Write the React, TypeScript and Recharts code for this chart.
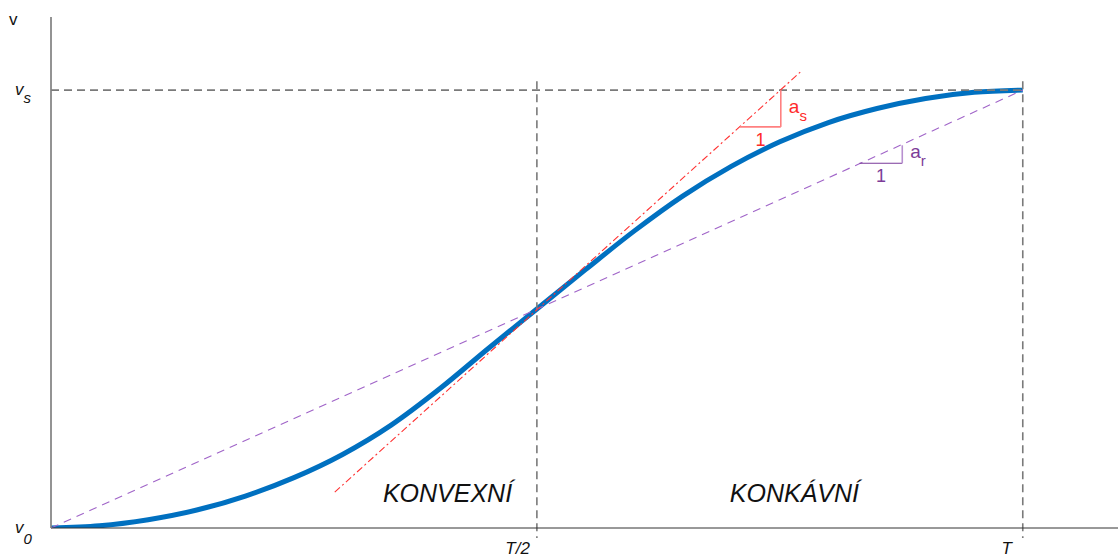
import React from "react";
import {
  LineChart,
  Line,
  XAxis,
  YAxis,
  ReferenceLine,
  ReferenceDot,
} from "recharts";

const FONT = '"Liberation Sans", Arial, sans-serif';

// normalised time (0 = start, 1 = T) and velocity (0 = v0, 1 = vs)
const timeSteps = [
  0, 0.05, 0.1, 0.15, 0.2, 0.25, 0.3, 0.35, 0.4, 0.45, 0.5, 0.55, 0.6, 0.65,
  0.7, 0.75, 0.8, 0.85, 0.9, 0.95, 1,
];
const velocity = [
  0, 0.005, 0.019, 0.041, 0.073, 0.115, 0.168, 0.235, 0.318, 0.41, 0.5, 0.59,
  0.678, 0.758, 0.826, 0.882, 0.926, 0.958, 0.981, 0.995, 1,
];

const xTicks = [0.5, 1];
const xTickLabels = ["T/2", "T"];
const yTicks = [0, 1, 1.167];

const X_MAX = 1.098;
const Y_MAX = 1.167;

// secant v0 -> vs and tangent in the inflection point
const secant = [
  { x: 0, y: 0 },
  { x: 1, y: 1 },
];
const tangent = [
  { x: 0.292, y: 0.082 },
  { x: 0.771, y: 1.041 },
];
// slope triangles: left corner, right corner, top corner
const asTriangle = [
  { x: 0.709, y: 0.916 },
  { x: 0.751, y: 0.916 },
  { x: 0.751, y: 1.0 },
];
const arTriangle = [
  { x: 0.832, y: 0.833 },
  { x: 0.876, y: 0.833 },
  { x: 0.876, y: 0.874 },
];

const regionLabels = [
  { x: 0.408, y: 0.059, text: "KONVEXNÍ" },
  { x: 0.765, y: 0.059, text: "KONKÁVNÍ" },
];

const curveData = timeSteps.map((t, i) => ({ t, v: velocity[i] }));

function TimeTick({ x, y, payload }: any) {
  const idx = xTicks.indexOf(payload.value);
  const shift = idx === 0 ? -7 : -11;
  return (
    <text
      x={x + shift}
      y={y + 26}
      textAnchor="end"
      fontFamily={FONT}
      fontSize={17}
      fontStyle="italic"
      fill="#111"
    >
      {xTickLabels[idx]}
    </text>
  );
}

function VelocityTick({ x, y, payload }: any) {
  const common = { fontFamily: FONT, fontSize: 17, fill: "#111" };
  if (payload.value === 0) {
    return (
      <text x={x - 36} y={y + 5} {...common} fontStyle="italic">
        v<tspan dy={11} fontSize={15}>0</tspan>
      </text>
    );
  }
  if (payload.value === 1) {
    return (
      <text x={x - 36} y={y + 5} {...common} fontStyle="italic">
        v<tspan dy={8} fontSize={15}>s</tspan>
      </text>
    );
  }
  return (
    <text x={x - 42} y={y + 8} {...common}>
      v
    </text>
  );
}

function slopeLabels(tri: { x: number; y: number }[], color: string, sub: string) {
  return [
    <ReferenceDot
      key={`one-${sub}`}
      x={(tri[0].x + tri[1].x) / 2}
      y={tri[0].y}
      r={1}
      ifOverflow="visible"
      shape={(p: any) => (
        <text
          x={p.cx}
          y={p.cy + 19}
          textAnchor="middle"
          fontFamily={FONT}
          fontSize={18}
          fill={color}
        >
          1
        </text>
      )}
    />,
    <ReferenceDot
      key={`a-${sub}`}
      x={tri[2].x}
      y={(tri[1].y + tri[2].y) / 2}
      r={1}
      ifOverflow="visible"
      shape={(p: any) => (
        <text x={p.cx + 8} y={p.cy + 4} fontFamily={FONT} fontSize={19} fill={color}>
          a<tspan dy={8} fontSize={15}>{sub}</tspan>
        </text>
      )}
    />,
  ];
}

export default function App() {
  return (
    <div style={{ position: "absolute", left: 0, top: 0 }}>
      <LineChart
        width={1118}
        height={558}
        data={curveData}
        margin={{ top: 17, right: 0, left: 0, bottom: 0 }}
      >
        <XAxis
          dataKey="t"
          type="number"
          domain={[0, X_MAX]}
          ticks={xTicks}
          tick={<TimeTick />}
          tickLine={false}
          tickSize={0}
          tickMargin={0}
          height={30}
          axisLine={{ stroke: "#333", strokeWidth: 1 }}
          allowDataOverflow
        />
        <YAxis
          type="number"
          domain={[0, Y_MAX]}
          ticks={yTicks}
          tick={<VelocityTick />}
          tickLine={false}
          tickSize={0}
          tickMargin={0}
          width={51}
          axisLine={{ stroke: "#808080", strokeWidth: 1.7 }}
          allowDataOverflow
        />

        <Line
          type="monotone"
          dataKey="v"
          stroke="#0070c0"
          strokeWidth={5}
          dot={false}
          isAnimationActive={false}
        />

        {/* guide lines at vs, T/2 and T */}
        <ReferenceLine
          segment={[
            { x: 0, y: 1 },
            { x: 1, y: 1 },
          ]}
          stroke="#7a7a7a"
          strokeWidth={1.6}
          strokeDasharray="8 5"
          ifOverflow="visible"
        />
        {xTicks.map((t) => (
          <ReferenceLine
            key={`v-${t}`}
            segment={[
              { x: t, y: 1.02 },
              { x: t, y: -0.023 },
            ]}
            stroke="#7a7a7a"
            strokeWidth={1.6}
            strokeDasharray="8 5"
            ifOverflow="visible"
          />
        ))}

        <ReferenceLine
          segment={secant}
          stroke="#a064c8"
          strokeWidth={1.1}
          strokeDasharray="8 6"
          ifOverflow="visible"
        />
        <ReferenceLine
          segment={tangent}
          stroke="#ff3030"
          strokeWidth={1.1}
          strokeDasharray="7 3 2 3"
          ifOverflow="visible"
        />

        <ReferenceLine segment={[asTriangle[0], asTriangle[1]]} stroke="#ff8080" strokeWidth={1.6} ifOverflow="visible" />
        <ReferenceLine segment={[asTriangle[1], asTriangle[2]]} stroke="#ff8080" strokeWidth={1.6} ifOverflow="visible" />
        <ReferenceLine segment={[arTriangle[0], arTriangle[1]]} stroke="#7a3a9a" strokeWidth={1.2} ifOverflow="visible" />
        <ReferenceLine segment={[arTriangle[1], arTriangle[2]]} stroke="#b890d0" strokeWidth={1.6} ifOverflow="visible" />

        {slopeLabels(asTriangle, "#ff2a2a", "s")}
        {slopeLabels(arTriangle, "#7d3c98", "r")}

        {regionLabels.map((l) => (
          <ReferenceDot
            key={l.text}
            x={l.x}
            y={l.y}
            r={1}
            ifOverflow="visible"
            shape={(p: any) => (
              <text
                x={p.cx}
                y={p.cy}
                textAnchor="middle"
                fontFamily={FONT}
                fontSize={25}
                fontStyle="italic"
                fill="#111"
              >
                {l.text}
              </text>
            )}
          />
        ))}
      </LineChart>
    </div>
  );
}
